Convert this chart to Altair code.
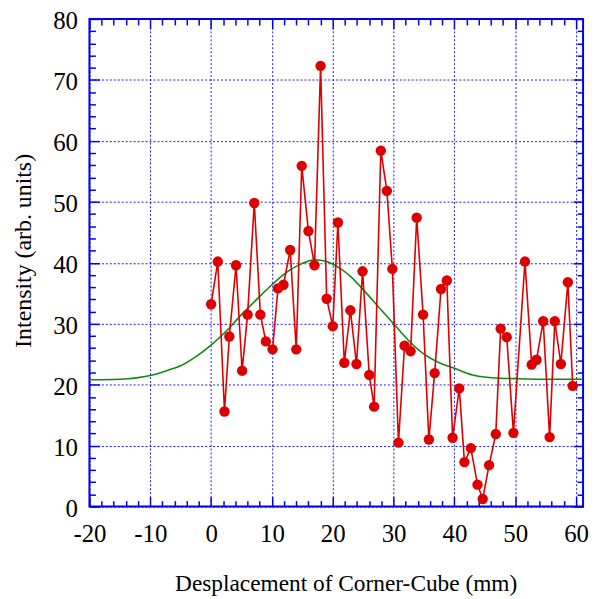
import altair as alt
import pandas as pd

# measured points (position along x in mm, intensity)
pos = [0.0, 1.1, 2.2, 3.0, 4.1, 5.1, 6.0, 7.1, 8.1, 9.0,
       10.1, 11.0, 11.9, 13.0, 14.0, 14.9, 16.0, 17.0, 18.0, 19.0,
       20.0, 20.85, 21.9, 22.9, 23.9, 24.9, 26.0, 26.8, 27.9, 28.9,
       29.8, 30.8, 31.8, 32.8, 33.8, 34.85, 35.8, 36.75, 37.8, 38.75,
       39.7, 40.8, 41.65, 42.7, 43.8, 44.65, 45.7, 46.8, 47.6, 48.6,
       49.7, 51.6, 52.7, 53.5, 54.6, 55.65, 56.5, 57.5, 58.65, 59.45]
intensity = [33.2, 40.2, 15.6, 27.9, 39.6, 22.3, 31.5, 49.8, 31.5, 27.1,
             25.8, 35.8, 36.4, 42.1, 25.8, 55.9, 45.2, 39.6, 72.3, 34.1,
             29.6, 46.6, 23.6, 32.2, 23.4, 38.6, 21.6, 16.4, 58.4, 51.8,
             39.0, 10.5, 26.4, 25.5, 47.4, 31.5, 11.0, 21.9, 35.7, 37.1,
             11.3, 19.4, 7.3, 9.6, 3.6, 1.25, 6.8, 11.9, 29.2, 27.8,
             12.1, 40.2, 23.3, 24.1, 30.4, 11.4, 30.4, 23.4, 36.8, 19.8]

# fitted curve
curve_x = [-20, -15, -10, -7, -5, -2.5, 0, 2.5, 5, 7.5, 10, 12.5, 15, 17, 19,
           21, 23, 25, 27.5, 30, 32.5, 35, 37.5, 40, 43, 47, 50, 55, 61.1]
curve_y = [20.8, 20.9, 21.5, 22.4, 23.1, 24.6, 26.5, 28.8, 31.5, 34.0, 36.4,
           38.5, 39.9, 40.5, 40.2, 39.2, 37.7, 35.6, 32.8, 30.0, 27.2, 25.0,
           23.6, 22.7, 21.6, 21.1, 21.0, 20.9, 20.9]

x_major = [-20, -10, 0, 10, 20, 30, 40, 50, 60]
x_minor = [v for v in range(-18, 61, 2) if v % 10 != 0]
y_major = [0, 10, 20, 30, 40, 50, 60, 70, 80]
y_minor = [v for v in range(2, 80, 2) if v % 10 != 0]

pts = pd.DataFrame({"x": pos, "y": intensity})
crv = pd.DataFrame({"x": curve_x, "y": curve_y})

BLUE = "#0000ee"
RED = "#dd0000"
GREEN = "#118811"
FONT = "Liberation Serif"

xs = alt.Scale(domain=[-20, 61.15], nice=False, zero=False)
ys = alt.Scale(domain=[0, 80], nice=False, zero=False)

def tick_axis(orient, values, size, labels=False, grid=False, **kw):
    return alt.Axis(orient=orient, values=values, offset=-size, tickSize=size,
                    tickColor=BLUE, tickWidth=1.5, domain=False, labels=labels,
                    grid=grid, gridColor=BLUE, gridDash=[2, 2], gridWidth=1,
                    gridOpacity=0.9, **kw)

ax_bottom = tick_axis("bottom", x_major, 10, labels=True, grid=True,
                      labelFont=FONT, labelFontSize=25, labelColor="black",
                      labelExpr="'' + datum.value", labelFlush=False,
                      labelOverlap=False,
                      labelPadding=15, title="Desplacement of Corner-Cube (mm)",
                      titleFont=FONT, titleFontSize=23.5, titleFontWeight="normal",
                      titleColor="black", titleX=258, titleY=94,
                      titleAlign="center", titleBaseline="alphabetic")
ax_left = tick_axis("left", y_major, 10, labels=True, grid=True,
                    labelFont=FONT, labelFontSize=25, labelColor="black",
                    labelExpr="'' + datum.value", labelFlush=False,
                    labelOverlap=False, labelOffset=2,
                    labelPadding=12, title="Intensity (arb. units)",
                    titleFont=FONT, titleFontSize=24, titleFontWeight="normal",
                    titleColor="black", titleX=-69, titleY=233,
                    titleAlign="center", titleBaseline="alphabetic",
                    titleAngle=270)

curve = alt.Chart(crv).mark_line(color=GREEN, strokeWidth=1.6, interpolate="monotone").encode(
    x=alt.X("x:Q", scale=xs, axis=ax_bottom),
    y=alt.Y("y:Q", scale=ys, axis=ax_left),
)

line = alt.Chart(pts).mark_line(color=RED, strokeWidth=1.6).encode(
    x=alt.X("x:Q", scale=xs, axis=tick_axis("bottom", x_minor, 6, title=None)),
    y=alt.Y("y:Q", scale=ys, axis=tick_axis("left", y_minor, 6, title=None)),
)

dots = alt.Chart(pts).mark_circle(color=RED, size=110, opacity=1).encode(
    x=alt.X("x:Q", scale=xs, axis=tick_axis("top", x_major, 10, title=None)),
    y=alt.Y("y:Q", scale=ys, axis=tick_axis("right", y_major, 10, title=None)),
)

ghost = alt.Chart(pts).mark_circle(opacity=0).encode(
    x=alt.X("x:Q", scale=xs, axis=tick_axis("top", x_minor, 6, title=None)),
    y=alt.Y("y:Q", scale=ys, axis=tick_axis("right", y_minor, 6, title=None)),
)

chart = alt.layer(curve, line, dots, ghost).resolve_axis(
    x="independent", y="independent"
).properties(
    width=497, height=491,
    autosize=alt.AutoSizeParams(type="none"),
    padding={"left": 82, "top": 9, "right": 10, "bottom": 91},
    background="white",
).configure_view(stroke=BLUE, strokeWidth=2)

chart.save("out.html", embed_options={"renderer": "svg", "actions": False})
